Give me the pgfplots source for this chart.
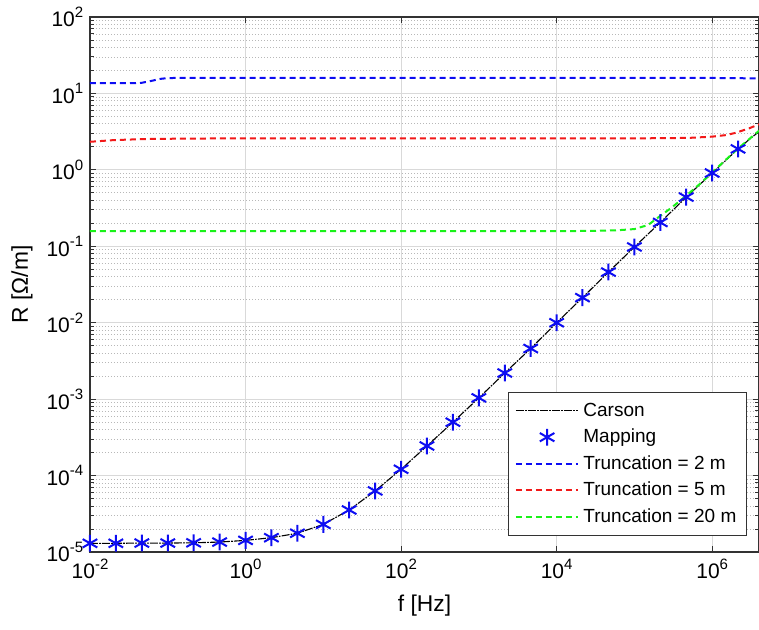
\documentclass[border=0pt]{standalone}
\usepackage{pgfplots}
\pgfplotsset{compat=1.18}
\usepackage{fontspec}
\setmainfont{Liberation Sans}
\definecolor{mgreen}{rgb}{0.1,0.95,0.1}
\definecolor{mblue}{rgb}{0.05,0.05,0.95}
\definecolor{mred}{rgb}{0.95,0.1,0.1}
\newcommand{\pw}[1]{10\raisebox{0.85ex}{\fontsize{7.5}{8}\selectfont #1}}
\begin{document}
\fontsize{9.5}{11}\selectfont
\begin{tikzpicture}
\begin{axis}[
  name=ax,
  xmode=log, ymode=log,
  scale only axis, width=334.5pt, height=267.5pt,
  xmin=1e-2, xmax=4e6, ymin=1e-5, ymax=1e2,
  xtick={1e-2,1,1e2,1e4,1e6},
  ytick={1e-5,1e-4,1e-3,1e-2,1e-1,1,1e1,1e2},
  xminorticks=false,
  xticklabel={\pgfmathtruncatemacro\ex{round(\tick/ln(10))}\pw{\ex}},
  yticklabel={\pgfmathtruncatemacro\ex{round(\tick/ln(10))}\pw{\ex}},
  tick label style={font=\fontsize{10.5}{12}\selectfont},
  xmajorgrids, ymajorgrids, yminorgrids,
  major grid style={black!15, line width=0.5pt},
  minor grid style={black!28, dash pattern=on 0.5pt off 1pt, line width=0.4pt},
  axis line style={draw=black!80, line width=0.6pt},
  every tick/.style={black!80, line width=0.5pt},
  major tick length=3pt, minor tick length=2pt,
  xlabel={f [Hz]}, ylabel={R [Ω/m]},
  label style={font=\fontsize{11.4}{13}\selectfont},
  xlabel style={yshift=-1.5pt},
  ylabel style={yshift=0.5pt},
  legend style={at={(0.982,0.030)}, anchor=south east, draw=black!80, line width=0.6pt,
    fill=white, font=\fontsize{9.5}{11}\selectfont, row sep=1pt, inner sep=3pt},
  legend cell align=left,
  legend image code/.code={\draw[mark repeat=2,mark phase=2,#1] plot coordinates {(0cm,0cm) (0.55cm,0cm) (1.1cm,0cm)};},
]
\addplot[black, line width=0.55pt, dash pattern=on 4pt off 0.6pt on 0.8pt off 0.6pt] coordinates {
(0.01,1.30e-5) (0.0215,1.30e-5) (0.0464,1.31e-5) (0.1,1.31e-5) (0.215,1.32e-5)
(0.464,1.35e-5) (1,1.42e-5) (2.15,1.54e-5) (4.64,1.76e-5) (10,2.30e-5)
(21.5,3.55e-5) (46.4,6.3e-5) (100,1.21e-4) (215,2.44e-4) (464,5.0e-4)
(1000,1.04e-3) (2154,2.2e-3) (4642,4.6e-3) (1e4,1.0e-2) (2.15e4,2.13e-2)
(4.64e4,4.6e-2) (1e5,9.8e-2) (2.15e5,0.205) (4.64e5,0.44) (1e6,0.91)
(2.15e6,1.88) (3e6,2.5) (4e6,3.17)};
\addlegendentry{Carson}
\addplot[only marks, mark=asterisk, mark size=4.2pt, mblue, mark options={line width=1pt}] coordinates {
(0.01,1.30e-5) (0.0215,1.30e-5) (0.0464,1.31e-5) (0.1,1.31e-5) (0.215,1.32e-5)
(0.464,1.35e-5) (1,1.42e-5) (2.15,1.54e-5) (4.64,1.76e-5) (10,2.30e-5)
(21.5,3.55e-5) (46.4,6.3e-5) (100,1.21e-4) (215,2.44e-4) (464,5.0e-4)
(1000,1.04e-3) (2154,2.2e-3) (4642,4.6e-3) (1e4,1.0e-2) (2.15e4,2.13e-2)
(4.64e4,4.6e-2) (1e5,9.8e-2) (2.15e5,0.205) (4.64e5,0.44) (1e6,0.91)
(2.15e6,1.88)};
\addlegendentry{Mapping}
\addplot[mblue, line width=1pt, dash pattern=on 3pt off 2pt] coordinates {
(0.01,13.6) (0.03,13.6) (0.045,13.7) (0.06,14.5) (0.08,15.5) (0.1,15.9) (0.2,16.0)
(1e5,16.0) (1e6,15.95) (2e6,15.85) (4e6,15.7)};
\addlegendentry{Truncation = 2 m}
\addplot[mred, line width=1pt, dash pattern=on 3pt off 2pt] coordinates {
(0.01,2.33) (0.02,2.45) (0.05,2.53) (0.2,2.57) (1,2.58) (1e5,2.58) (5e5,2.62)
(1e6,2.72) (1.5e6,2.85) (2e6,3.05) (3e6,3.5) (4e6,3.95)};
\addlegendentry{Truncation = 5 m}
\addplot[mgreen, line width=1pt, dash pattern=on 3pt off 2pt] coordinates {
(0.01,0.158) (1e4,0.158) (3e4,0.159) (6e4,0.162) (1e5,0.168) (1.5e5,0.19)
(2.15e5,0.25) (3e5,0.32) (4.64e5,0.46) (7e5,0.66) (1e6,0.93) (2.15e6,1.9) (4e6,3.25)};
\addlegendentry{Truncation = 20 m}
\end{axis}
\pgfresetboundingbox
\path ([xshift=-45pt,yshift=-38.5pt]ax.south west) rectangle ++(379.5pt,314.5pt);
\end{tikzpicture}
\end{document}
